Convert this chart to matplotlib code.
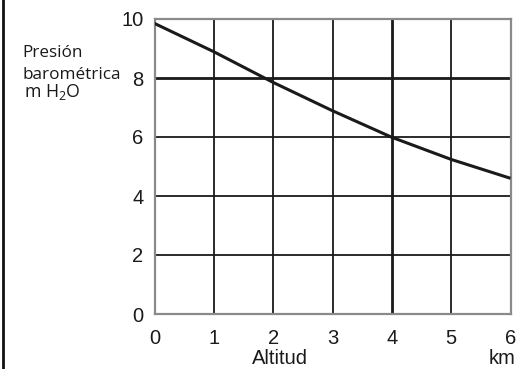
import numpy as np
import matplotlib
matplotlib.use("Agg")
import matplotlib.pyplot as plt
from matplotlib.lines import Line2D

# Datos
altitud_km = [0, 1, 2, 3, 4, 5, 6]
presion_m_h2o = [9.85, 8.89, 7.85, 6.89, 5.99, 5.24, 4.6]
x_ticks = [0, 1, 2, 3, 4, 5, 6]
y_ticks = [0, 2, 4, 6, 8, 10]
lineas_gruesas_x = [4]
lineas_gruesas_y = [8]

plt.rcParams['mathtext.fontset'] = 'custom'
plt.rcParams['mathtext.rm'] = 'Open Sans'

fig = plt.figure(figsize=(5.29, 3.69), dpi=100)
ax = fig.add_axes([154.5 / 529, 1 - 314 / 369, 356 / 529, 295 / 369])

ax.set_xlim(0, 6)
ax.set_ylim(0, 10)

# Rejilla
for x in x_ticks[1:-1]:
    lw = 2.0 if x in lineas_gruesas_x else 1.3
    ax.axvline(x, color='#1a1a1a', lw=lw, zorder=1)
for y in y_ticks[1:-1]:
    lw = 2.0 if y in lineas_gruesas_y else 1.3
    ax.axhline(y, color='#1a1a1a', lw=lw, zorder=1)

# Curva
ax.plot(altitud_km, presion_m_h2o, color='#1a1a1a', lw=2.2, zorder=3,
        solid_capstyle='butt')

for s in ax.spines.values():
    s.set_color('#8a8a8a')
    s.set_linewidth(1.6)

ax.set_xticks(x_ticks)
ax.set_yticks(y_ticks)
ax.tick_params(length=0, labelsize=14.5, colors='#1a1a1a')
ax.tick_params(axis='x', pad=11)
ax.tick_params(axis='y', pad=8)
for lab in ax.get_xticklabels() + ax.get_yticklabels():
    lab.set_family('Liberation Sans')

# Textos
fig.text(22 / 529, 1 - 57 / 369, 'Presión', fontsize=12.3,
         family='Open Sans', color='#1a1a1a')
fig.text(22 / 529, 1 - 79 / 369, 'barométrica', fontsize=12.3,
         family='Open Sans', color='#1a1a1a')
fig.text(24 / 529, 1 - 97 / 369, r'm H$_\mathrm{2}$O', fontsize=12.8,
         family='Open Sans', color='#1a1a1a')
fig.text(280 / 529, 1 - 364 / 369, 'Altitud', fontsize=14.5, ha='center',
         family='Liberation Sans', color='#1a1a1a')
fig.text(515 / 529, 1 - 364 / 369, 'km', fontsize=14.5, ha='right',
         family='Liberation Sans', color='#1a1a1a')

# Línea del borde izquierdo
fig.add_artist(Line2D([2.5 / 529, 2.5 / 529], [0, 1], color='#111111',
                      lw=2.0, transform=fig.transFigure))

fig.savefig('out.png', dpi=100)
